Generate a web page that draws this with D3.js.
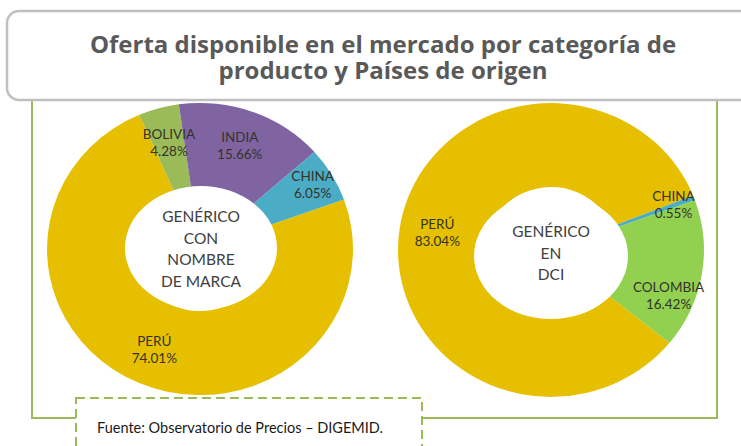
<!DOCTYPE html>
<html>
<head>
<meta charset="utf-8">
<script src="https://cdn.jsdelivr.net/npm/d3@7"></script>
<style>
  body { margin: 0; background: #fff; }
  svg { display: block; font-family: Lato, "Open Sans", sans-serif; }
</style>
</head>
<body>
<div id="chart"></div>
<script>
// Data
const titleLines = ["Oferta disponible en el mercado por categoría de", "producto y Países de origen"];
const sourceText = "Fuente: Observatorio de Precios – DIGEMID.";

const leftCountries = ["PERÚ", "BOLIVIA", "INDIA", "CHINA"];
const leftShares = [74.01, 4.28, 15.66, 6.05];
const leftCenter = ["GENÉRICO", "CON", "NOMBRE", "DE MARCA"];

const rightCountries = ["PERÚ", "CHINA", "COLOMBIA"];
const rightShares = [83.04, 0.55, 16.42];
const rightCenter = ["GENÉRICO", "EN", "DCI"];

const countryColor = d3.scaleOrdinal()
    .domain(["PERÚ", "BOLIVIA", "INDIA", "CHINA", "COLOMBIA"])
    .range(["#e6c000", "#9bbb59", "#8064a2", "#4bacc6", "#92d050"]);

const width = 741, height = 446;
const svg = d3.select("#chart").append("svg")
    .attr("width", width)
    .attr("height", height);

// green frame and dashed source box
const frameColor = "#9bbb59";
svg.append("path")
    .attr("d", "M32,100 V418 H76 M422,418 H717 V100")
    .attr("fill", "none")
    .attr("stroke", frameColor)
    .attr("stroke-width", 2);

svg.append("rect")
    .attr("x", 76).attr("y", 398)
    .attr("width", 346).attr("height", 70)
    .attr("fill", "#fff")
    .attr("stroke", frameColor)
    .attr("stroke-width", 2)
    .attr("stroke-dasharray", "9,5");

svg.append("text")
    .attr("x", 97).attr("y", 433)
    .attr("font-size", 14.5)
    .attr("fill", "#1a1a1a")
    .text(sourceText);

// one doughnut
function drawDonut(cfg) {
    const pie = d3.pie().sort(null)
        .startAngle(cfg.start * Math.PI / 180)
        .endAngle(cfg.start * Math.PI / 180 + 2 * Math.PI);
    const slices = pie(cfg.values).map((d, i) => ({...d, name: cfg.names[i]}));

    const arc = d3.arc().innerRadius(cfg.ry0 / cfg.k).outerRadius(cfg.r);

    const g = svg.append("g")
        .attr("transform", `translate(${cfg.cx},${cfg.cy}) scale(1,${cfg.k})`);
    g.selectAll("path")
        .data(slices)
        .join("path")
        .attr("d", arc)
        .attr("fill", d => countryColor(d.name));

    // hole
    svg.append("ellipse")
        .attr("cx", cfg.hx).attr("cy", cfg.hy)
        .attr("rx", cfg.rx0).attr("ry", cfg.ry0)
        .attr("fill", "#fff");

    // slice labels (best-fit style: small slices pushed outward)
    const lab = svg.append("g")
        .attr("font-size", 13.5)
        .attr("fill", "#33332b")
        .attr("text-anchor", "middle");
    slices.forEach(d => {
        const fit = cfg.fit[d.name] || {};
        const lr = fit.r || cfg.labelR;
        const shift = (fit.da || 0) * Math.PI / 180;
        const la = d3.arc().innerRadius(lr).outerRadius(lr);
        const [x, y] = la.centroid({startAngle: d.startAngle + shift, endAngle: d.endAngle + shift});
        const px = cfg.cx + x, py = cfg.cy + y * cfg.k;
        const t = lab.append("text");
        t.append("tspan").attr("x", px).attr("y", py - 4).text(d.name);
        t.append("tspan").attr("x", px).attr("y", py + 13).text(d3.format(".2f")(d.data) + "%");
    });

    // centre caption
    const c = svg.append("text")
        .attr("text-anchor", "middle")
        .attr("font-size", 15.5)
        .attr("fill", "#404040");
    cfg.center.forEach((s, i) => {
        c.append("tspan")
            .attr("x", cfg.hx)
            .attr("y", cfg.captionTop + i * 21.7)
            .text(s);
    });
}

drawDonut({
    names: leftCountries, values: leftShares, center: leftCenter,
    cx: 200, cy: 249, r: 153, k: 0.955, start: 70.2,
    hx: 201, hy: 248, rx0: 76, ry0: 62, labelR: 115, captionTop: 222,
    fit: {CHINA: {r: 131}}
});

drawDonut({
    names: rightCountries, values: rightShares, center: rightCenter,
    cx: 551, cy: 250, r: 153, k: 0.96, start: 129.3,
    hx: 551, hy: 256, rx0: 77, ry0: 63, labelR: 115, captionTop: 237,
    fit: {CHINA: {r: 131}, COLOMBIA: {r: 127, da: 12.5}}
});

// title box drawn last, it sits over the top of the doughnuts
svg.append("rect")
    .attr("x", 7).attr("y", 11)
    .attr("width", 760).attr("height", 89)
    .attr("rx", 12)
    .attr("fill", "#fff")
    .attr("stroke", "#c0c0c0")
    .attr("stroke-width", 2.5);

svg.append("g")
    .attr("font-family", "'Open Sans', sans-serif")
    .attr("font-size", 24)
    .attr("font-weight", "bold")
    .attr("fill", "#595959")
    .attr("text-anchor", "middle")
    .selectAll("text")
    .data(titleLines)
    .join("text")
    .attr("x", 383)
    .attr("y", (d, i) => 53 + i * 26)
    .text(d => d);
</script>
</body>
</html>
